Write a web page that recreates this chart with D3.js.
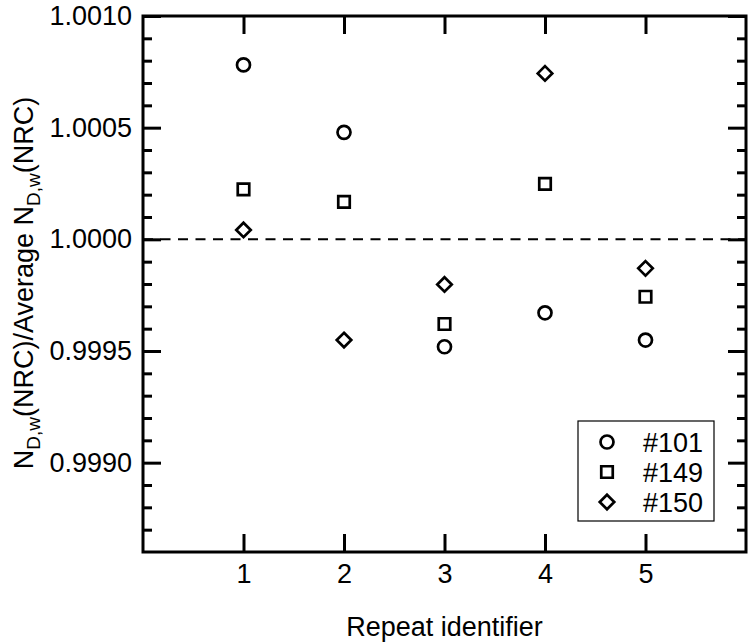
<!DOCTYPE html>
<html>
<head>
<meta charset="utf-8">
<script src="https://cdn.jsdelivr.net/npm/d3@7"></script>
<style>
    html, body { margin: 0; padding: 0; background: #fff; }
    svg { display: block; font-family: "Liberation Sans", Arial, Helvetica, sans-serif; }
</style>
</head>
<body>
<div id="plot"></div>
<script>
const repeats = [1, 2, 3, 4, 5];
const s101 = [1.000781, 1.000479, 0.999519, 0.999671, 0.999549];
const s149 = [1.000224, 1.000168, 0.999621, 1.000248, 0.999743];
const s150 = [1.000042, 0.999549, 0.999798, 1.000743, 0.999870];
const seriesNames = ["#101", "#149", "#150"];
const yMajor = [0.9990, 0.9995, 1.0000, 1.0005, 1.0010];
const yMinor = [0.9987, 0.9988, 0.9989, 0.9991, 0.9992, 0.9993, 0.9994, 0.9996, 0.9997,
    0.9998, 0.9999, 1.0001, 1.0002, 1.0003, 1.0004, 1.0006, 1.0007, 1.0008, 1.0009];

const width = 751, height = 643;
const margin = { top: 16, right: 5, bottom: 91, left: 143 };
const fontSize = 27;

const svg = d3.select("#plot")
    .append("svg")
    .attr("width", width)
    .attr("height", height);

const x = d3.scaleLinear().domain([0, 6]).range([margin.left, width - margin.right]);
const y = d3.scaleLinear().domain([0.9986, 1.0010]).range([height - margin.bottom, margin.top]);

const tickStyle = g => {
    g.select(".domain").remove();
    g.selectAll(".tick line").attr("stroke", "#000").attr("stroke-width", 3);
    g.selectAll(".tick text").attr("fill", "#000").attr("font-size", fontSize);
};

// left axis, labelled majors
svg.append("g")
    .attr("transform", `translate(${x(0)},0)`)
    .call(d3.axisLeft(y).tickValues(yMajor).tickSize(-18).tickPadding(11)
        .tickFormat(d3.format(".4f")))
    .call(tickStyle);
svg.append("g")
    .attr("transform", `translate(${x(0)},0)`)
    .call(d3.axisLeft(y).tickValues(yMinor).tickSize(-9).tickFormat(""))
    .call(tickStyle);

// right axis mirrored
svg.append("g")
    .attr("transform", `translate(${x(6)},0)`)
    .call(d3.axisRight(y).tickValues(yMajor).tickSize(-18).tickFormat(""))
    .call(tickStyle);
svg.append("g")
    .attr("transform", `translate(${x(6)},0)`)
    .call(d3.axisRight(y).tickValues(yMinor).tickSize(-9).tickFormat(""))
    .call(tickStyle);

// bottom and top
svg.append("g")
    .attr("transform", `translate(0,${y.range()[0]})`)
    .call(d3.axisBottom(x).tickValues(repeats).tickSize(-18).tickPadding(12)
        .tickFormat(d3.format("d")))
    .call(tickStyle);
svg.append("g")
    .attr("transform", `translate(0,${y.range()[1]})`)
    .call(d3.axisTop(x).tickValues(repeats).tickSize(-18).tickFormat(""))
    .call(tickStyle);

// frame
svg.append("rect")
    .attr("x", x(0))
    .attr("y", y(1.0010))
    .attr("width", x(6) - x(0))
    .attr("height", y(0.9986) - y(1.0010))
    .attr("fill", "none")
    .attr("stroke", "#000")
    .attr("stroke-width", 3);

// reference line at 1
svg.append("line")
    .attr("x1", x(0))
    .attr("x2", x(6))
    .attr("y1", y(1))
    .attr("y2", y(1))
    .attr("stroke", "#000")
    .attr("stroke-width", 2)
    .attr("stroke-dasharray", "10,7.5");

// marker shapes
const diamond = {
    draw(ctx, size) {
        const r = Math.sqrt(size) / 2;
        ctx.moveTo(0, -r);
        ctx.lineTo(r, 0);
        ctx.lineTo(0, r);
        ctx.lineTo(-r, 0);
        ctx.closePath();
    }
};
const shapes = [
    d3.symbol(d3.symbolCircle, Math.PI * 6.5 * 6.5),
    d3.symbol(d3.symbolSquare, 11.5 * 11.5),
    d3.symbol(diamond, 14.5 * 14.5)
];
const series = [s101, s149, s150];

series.forEach((vals, i) => {
    svg.append("g")
        .selectAll("path")
        .data(vals)
        .enter()
        .append("path")
        .attr("d", shapes[i])
        .attr("transform", (d, j) => `translate(${x(repeats[j])},${y(d)})`)
        .attr("fill", "none")
        .attr("stroke", "#000")
        .attr("stroke-width", 2.7);
});

// legend
const legend = svg.append("g").attr("transform", "translate(578,421)");
legend.append("rect")
    .attr("width", 136)
    .attr("height", 100)
    .attr("fill", "#fff")
    .attr("stroke", "#000")
    .attr("stroke-width", 1.2);
seriesNames.forEach((name, i) => {
    const row = legend.append("g").attr("transform", `translate(0,${21 + i * 30})`);
    row.append("path")
        .attr("d", shapes[i])
        .attr("transform", "translate(29,0)")
        .attr("fill", "none")
        .attr("stroke", "#000")
        .attr("stroke-width", 2.7);
    row.append("text")
        .attr("x", 65)
        .attr("dy", "0.36em")
        .attr("font-size", fontSize)
        .text(name);
});

// axis titles
svg.append("text")
    .attr("x", (x(0) + x(6)) / 2)
    .attr("y", 636)
    .attr("text-anchor", "middle")
    .attr("font-size", fontSize)
    .text("Repeat identifier");

const yt = svg.append("text")
    .attr("transform", "translate(33,283) rotate(-90)")
    .attr("text-anchor", "middle")
    .attr("font-size", fontSize);
yt.append("tspan").text("N");
yt.append("tspan").attr("font-size", 19).attr("dy", 7).text("D,w");
yt.append("tspan").attr("dy", -7).text("(NRC)/Average N");
yt.append("tspan").attr("font-size", 19).attr("dy", 7).text("D,w");
yt.append("tspan").attr("dy", -7).text("(NRC)");
</script>
</body>
</html>
